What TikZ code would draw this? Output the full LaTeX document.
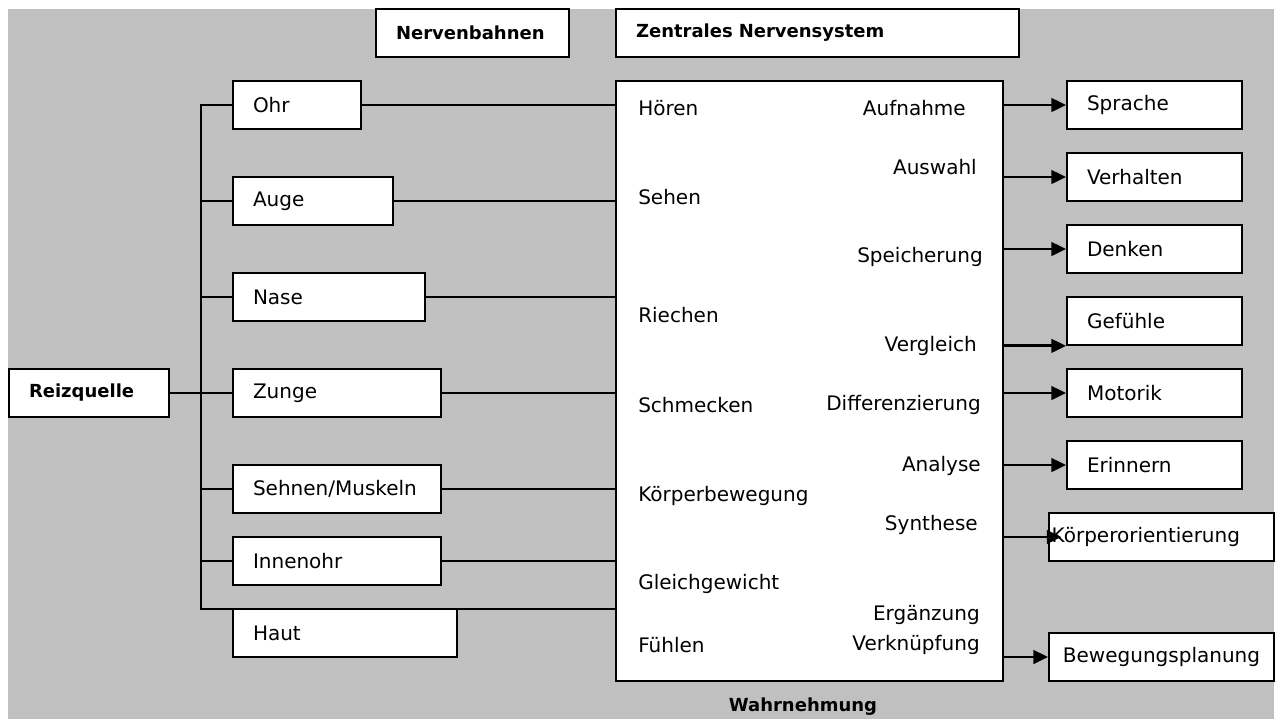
\documentclass[tikz,border=0pt]{standalone}
\usepackage{fontspec}
\setmainfont{DejaVu Sans}
\usepackage{tikz}
\usetikzlibrary{arrows.meta}
\definecolor{cb}{RGB}{0,0,0}
\definecolor{cbg}{RGB}{192,192,192}
\tikzstyle{box}=[draw=cb, fill=white, line width=1.3pt, minimum height=36pt, inner xsep=15pt, inner ysep=0pt, align=left, font=\fontsize{15}{17}\selectfont]
\tikzstyle{head}=[box, font=\fontsize{13.5}{16}\bfseries]
\tikzstyle{txt}=[inner sep=0pt, font=\fontsize{15}{17}\selectfont]
\tikzstyle{line}=[cb, line width=1.5pt]
\tikzstyle{arrow}=[cb, line width=2.2pt, -{Triangle[length=11pt,width=10pt]}]

\begin{document}
\begin{tikzpicture}[x=0.75pt, y=-0.75pt]
  \useasboundingbox (0,0) rectangle (1276,719);
  \fill [cbg] (8,9) rectangle (1274,719);

  % headings
  \node [head, text width=114.75pt] (bahnen) at (472.5,33) {Nervenbahnen};
  \node [head, text width=272.25pt] (zentral) at (817.5,33) {Zentrales Nervensystem};

  % sense organs
  \node [head, text width=90pt] (reiz) at (89,393) {Reizquelle};
  \node [box, text width=66pt] (ohr) at (297,105) {Ohr};
  \node [box, text width=90pt] (auge) at (313,201) {Auge};
  \node [box, text width=114pt] (nase) at (329,297) {Nase};
  \node [box, text width=126pt] (zunge) at (337,393) {Zunge};
  \node [box, text width=126pt] (sehnen) at (337,489) {Sehnen/Muskeln};
  \node [box, text width=126pt] (innenohr) at (337,561) {Innenohr};
  \node [box, text width=138pt] (haut) at (345,633) {Haut};

  % central box
  \node [draw=cb, fill=white, line width=1.3pt, minimum width=290.25pt, minimum height=450pt] (zns) at (809.5,381) {};
  \node [txt, anchor=west] (hoeren) at (638,108) {Hören};
  \node [txt, anchor=west] (sehen) at (638,197) {Sehen};
  \node [txt, anchor=west] (riechen) at (638,315) {Riechen};
  \node [txt, anchor=west] (schmecken) at (638,405) {Schmecken};
  \node [txt, anchor=west] (bewegung) at (638,496) {Körperbewegung};
  \node [txt, anchor=west] (gleich) at (638,584) {Gleichgewicht};
  \node [txt, anchor=west] (fuehlen) at (638,645) {Fühlen};
  \node [txt, anchor=east] (aufnahme) at (966,108) {Aufnahme};
  \node [txt, anchor=east] (auswahl) at (977,167) {Auswahl};
  \node [txt, anchor=east] (speicher) at (983,257) {Speicherung};
  \node [txt, anchor=east] (vergleich) at (977,346) {Vergleich};
  \node [txt, anchor=east] (diff) at (981,405) {Differenzierung};
  \node [txt, anchor=east] (analyse) at (981,466) {Analyse};
  \node [txt, anchor=east] (synthese) at (978,525) {Synthese};
  \node [txt, anchor=east] (ergaenzung) at (980,615) {Ergänzung};
  \node [txt, anchor=east] (verkn) at (980,645) {Verknüpfung};
  \node [txt, font=\fontsize{13.5}{16}\bfseries] (wahrn) at (803,707) {Wahrnehmung};

  % results
  \node [box, text width=101.25pt] (sprache) at (1154.5,105) {Sprache};
  \node [box, text width=101.25pt] (verhalten) at (1154.5,177) {Verhalten};
  \node [box, text width=101.25pt] (denken) at (1154.5,249) {Denken};
  \node [box, text width=101.25pt] (gefuehle) at (1154.5,321) {Gefühle};
  \node [box, text width=101.25pt] (motorik) at (1154.5,393) {Motorik};
  \node [box, text width=101.25pt] (erinnern) at (1154.5,465) {Erinnern};
  \node [box, text width=164.75pt, inner xsep=2pt] (koerper) at (1161.5,537) {Körperorientierung};
  \node [box, text width=165pt, inner xsep=1.875pt, align=center] (planung) at (1161.5,657) {Bewegungsplanung};

  % nerve paths
  \coordinate (bus) at (201,609);
  \draw [line] (ohr.west) -| (bus) -- (bus -| zns.west);
  \foreach \n in {auge,nase,sehnen,innenohr}
    \draw [line] (\n.west) -- (\n.west -| bus);
  \draw [line] (reiz) -- (zunge);
  \foreach \n in {ohr,auge,nase,zunge,sehnen,innenohr}
    \draw [line] (\n.east) -- (\n.east -| zns.west);

  % outputs
  \foreach \n in {sprache,verhalten,denken,motorik,erinnern,planung}
    \draw [arrow] (\n.west -| zns.east) -- (\n.west);
  \draw [arrow] (gefuehle.south west -| zns.east) -- (gefuehle.south west);
  \draw [arrow] (koerper.west -| zns.east) -- ([xshift=10pt]koerper.west);
\end{tikzpicture}
\end{document}
